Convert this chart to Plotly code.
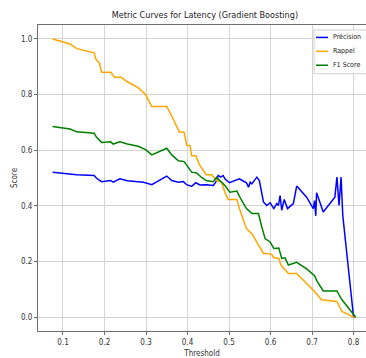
import plotly.graph_objects as go

title = "Metric Curves for Latency (Gradient Boosting)"

rappel_x = [0.075, 0.117, 0.133, 0.175, 0.179, 0.188, 0.193, 0.215, 0.224, 0.240, 0.255, 0.281, 0.299,
            0.306, 0.314, 0.350, 0.362, 0.380, 0.392, 0.398, 0.406, 0.410, 0.420, 0.428, 0.438, 0.445,
            0.458, 0.470, 0.482, 0.490, 0.498, 0.519, 0.525, 0.534, 0.542, 0.555, 0.567, 0.575, 0.583,
            0.590, 0.603, 0.608, 0.620, 0.625, 0.643, 0.663, 0.691, 0.706, 0.723, 0.760, 0.772, 0.800, 0.805]
rappel_y = [1.000, 0.982, 0.965, 0.950, 0.928, 0.912, 0.880, 0.880, 0.862, 0.862, 0.846, 0.825, 0.800,
            0.777, 0.757, 0.757, 0.723, 0.666, 0.664, 0.618, 0.616, 0.580, 0.580, 0.550, 0.530, 0.512,
            0.512, 0.491, 0.485, 0.449, 0.423, 0.423, 0.390, 0.348, 0.318, 0.300, 0.270, 0.247, 0.229,
            0.229, 0.225, 0.213, 0.211, 0.187, 0.157, 0.157, 0.115, 0.092, 0.062, 0.056, 0.020, 0.000, 0.000]

f1_x = [0.075, 0.117, 0.133, 0.175, 0.181, 0.193, 0.215, 0.221, 0.237, 0.255, 0.281, 0.299, 0.314,
        0.350, 0.362, 0.378, 0.392, 0.398, 0.410, 0.422, 0.434, 0.445, 0.462, 0.470, 0.478, 0.490,
        0.502, 0.519, 0.530, 0.542, 0.555, 0.571, 0.579, 0.587, 0.599, 0.608, 0.620, 0.627, 0.635,
        0.643, 0.663, 0.687, 0.706, 0.711, 0.727, 0.760, 0.772, 0.800, 0.805]
f1_y = [0.685, 0.676, 0.666, 0.661, 0.646, 0.628, 0.630, 0.622, 0.630, 0.622, 0.614, 0.602, 0.583,
        0.607, 0.583, 0.562, 0.559, 0.545, 0.521, 0.518, 0.502, 0.491, 0.487, 0.503, 0.491, 0.473,
        0.449, 0.453, 0.420, 0.390, 0.372, 0.372, 0.324, 0.282, 0.270, 0.247, 0.248, 0.211, 0.213,
        0.187, 0.197, 0.173, 0.149, 0.132, 0.094, 0.094, 0.062, 0.006, 0.000]

prec_x = [0.075, 0.117, 0.133, 0.175, 0.181, 0.193, 0.215, 0.221, 0.237, 0.255, 0.281, 0.294, 0.314,
          0.350, 0.362, 0.378, 0.390, 0.398, 0.410, 0.420, 0.430, 0.446, 0.462, 0.468, 0.474, 0.480,
          0.486, 0.490, 0.501, 0.519, 0.525, 0.531, 0.542, 0.547, 0.551, 0.555, 0.567, 0.573, 0.583,
          0.591, 0.599, 0.608, 0.615, 0.619, 0.623, 0.627, 0.633, 0.641, 0.655, 0.663, 0.687, 0.703,
          0.706, 0.709, 0.711, 0.727, 0.755, 0.760, 0.765, 0.770, 0.774, 0.800, 0.805]
prec_y = [0.521, 0.515, 0.512, 0.509, 0.499, 0.487, 0.491, 0.485, 0.497, 0.490, 0.487, 0.485, 0.476,
          0.507, 0.491, 0.485, 0.487, 0.476, 0.470, 0.483, 0.475, 0.476, 0.473, 0.485, 0.509, 0.503,
          0.509, 0.497, 0.483, 0.494, 0.497, 0.492, 0.483, 0.467, 0.485, 0.479, 0.503, 0.491, 0.414,
          0.401, 0.411, 0.390, 0.408, 0.401, 0.437, 0.384, 0.423, 0.390, 0.408, 0.471, 0.431, 0.390,
          0.419, 0.364, 0.447, 0.378, 0.431, 0.503, 0.401, 0.503, 0.366, 0.000, 0.000]

x_ticks = [0.1, 0.2, 0.3, 0.4, 0.5, 0.6, 0.7, 0.8]
y_ticks = [0.0, 0.2, 0.4, 0.6, 0.8, 1.0]

series_names = ["Précision", "Rappel", "F1 Score"]
series_colors = ["#0000ff", "#ffa500", "#008000"]

FONT = "DejaVu Sans Condensed, Liberation Sans Narrow, DejaVu Sans, sans-serif"

W, H = 366, 358
ML, MR, MT, MB = 38, 0, 25, 25
PW, PH = W - ML - MR, H - MT - MB


def px_x(px):
    return (px - ML) / PW


def px_y(py):
    return (H - MB - py) / PH


fig = go.Figure()
for xs, ys, nm, col in zip([prec_x, rappel_x, f1_x], [prec_y, rappel_y, f1_y], series_names, series_colors):
    fig.add_trace(go.Scatter(x=xs, y=ys, mode="lines", name=nm,
                             line=dict(color=col, width=1.5), showlegend=False))

# legend box (drawn manually to match the compact matplotlib legend)
shapes = [dict(type="rect", xref="paper", yref="paper",
               x0=px_x(314), x1=px_x(370), y0=px_y(74), y1=px_y(30),
               line=dict(color="#d0d0d0", width=1), fillcolor="rgba(255,255,255,0.9)", layer="above")]
annotations = []
for i, (nm, col) in enumerate(zip(series_names, series_colors)):
    yy = 37.5 + i * 14
    shapes.append(dict(type="line", xref="paper", yref="paper",
                       x0=px_x(316), x1=px_x(328), y0=px_y(yy), y1=px_y(yy),
                       line=dict(color=col, width=1.5), layer="above"))
    annotations.append(dict(text=nm, xref="paper", yref="paper", x=px_x(331), y=px_y(yy),
                            xanchor="left", yanchor="middle", showarrow=False,
                            font=dict(size=7, color="#222222", family=FONT)))

axis_common = dict(showgrid=True, gridcolor="#d4d4d4", gridwidth=1, zeroline=False,
                   showline=True, linecolor="#6e6e6e", linewidth=1,
                   ticks="outside", ticklen=3, tickcolor="#6e6e6e",
                   tickfont=dict(size=8, color="#333333", family=FONT))

fig.update_layout(
    width=W, height=H,
    margin=dict(l=ML, r=MR, t=MT, b=MB),
    paper_bgcolor="white", plot_bgcolor="white",
    font=dict(family=FONT, color="#222222"),
    title=dict(text=title, x=0.509, xref="paper", xanchor="center", y=1 - 15 / H, yanchor="middle",
               font=dict(size=9, color="#222222", family=FONT)),
    xaxis=dict(range=[0.0398, 0.83], tickvals=x_ticks, tickformat=".1f", mirror=True,
               title=dict(text="Threshold", font=dict(size=8, color="#333333"), standoff=6),
               **axis_common),
    yaxis=dict(range=[-0.05, 1.05], tickvals=y_ticks, tickformat=".1f", mirror=False,
               title=dict(text="Score", font=dict(size=8, color="#333333"), standoff=2),
               **axis_common),
    shapes=shapes,
    annotations=annotations,
    showlegend=False,
)

fig.write_html("out.html")
